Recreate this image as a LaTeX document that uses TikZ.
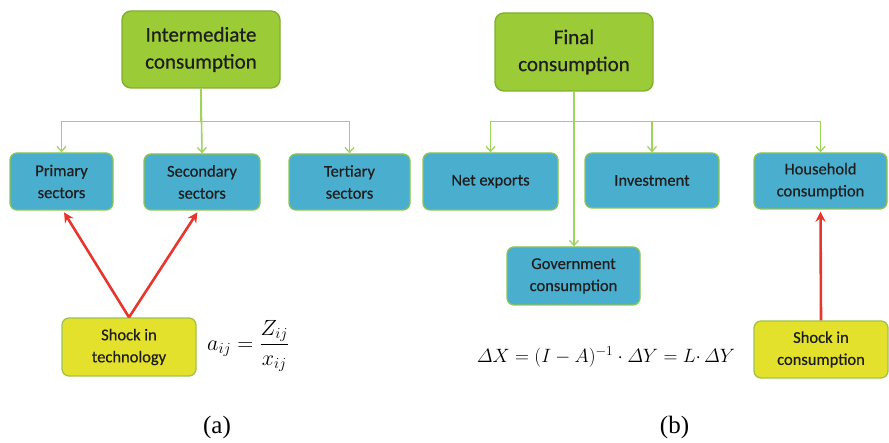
\RequirePackage{fix-cm}
\documentclass[tikz,border=0pt]{standalone}
\usepackage{amsmath}
\usepackage{fontspec}
\setmainfont{Carlito}
\newfontfamily\boxfont[FakeBold=0.5]{Carlito}
\newfontfamily\captionfont{Liberation Serif}
\usetikzlibrary{arrows.meta,calc}

\definecolor{headfill}{HTML}{9CCB38}
\definecolor{headdraw}{HTML}{7FB02E}
\definecolor{sectfill}{HTML}{4AAFCF}
\definecolor{sectdraw}{HTML}{8CC453}
\definecolor{shockfill}{HTML}{E4E12C}
\definecolor{shockdraw}{HTML}{9EC44A}
\definecolor{treeline}{HTML}{9ED35C}
\definecolor{shockline}{HTML}{E6362E}
\definecolor{boxtext}{HTML}{1E1E1E}

\tikzset{
  headbox/.style={draw=headdraw, fill=headfill, line width=1.4pt, rounded corners=9pt,
    text=boxtext, align=center, inner sep=0pt,
    font=\boxfont\fontsize{21}{27}\selectfont},
  sectbox/.style={draw=sectdraw, fill=sectfill, line width=1.3pt, rounded corners=7pt,
    text=boxtext, align=center, inner sep=0pt,
    font=\boxfont\fontsize{16.5}{22}\selectfont},
  shockbox/.style={sectbox, draw=shockdraw, fill=shockfill},
  tree/.style={draw=treeline, line width=1.6pt,
    -{Straight Barb[length=5pt,width=9pt,line width=1.3pt]}},
  shock/.style={draw=shockline, line width=2.6pt, shorten >=2pt,
    -{Stealth[length=10pt,width=10pt]}},
  eqn/.style={inner sep=0pt, font=\fontsize{19.3}{24}\selectfont},
  caption/.style={inner sep=0pt, font=\captionfont\fontsize{25}{30}\selectfont}
}

\begin{document}
\begin{tikzpicture}[x=1pt,y=-1pt]
  \useasboundingbox (0,0) rectangle (889,443);

  % ---------- (a) intermediate consumption ----------
  \node[headbox, minimum width=158pt, minimum height=77pt] (im) at (201,49.5)
    {Intermediate\\consumption};
  \node[sectbox, minimum width=103pt, minimum height=57pt] (prim) at (61.5,181.5)
    {Primary\\sectors};
  \node[sectbox, minimum width=116pt, minimum height=56pt] (sec) at (202,182)
    {Secondary\\sectors};
  \node[sectbox, minimum width=121pt, minimum height=56pt] (ter) at (349.5,182)
    {Tertiary\\sectors};
  \node[shockbox, minimum width=134pt, minimum height=58pt] (tech) at (129,347)
    {Shock in\\technology};
  \node[eqn, anchor=west, font=\fontsize{22}{26}\selectfont] (aij) at (207,346)
    {$a_{ij} = \dfrac{Z_{ij}}{x_{ij}}$};
  \node[caption] (capa) at (217,427) {(a)};

  \coordinate (imbar) at ($(im.south)+(0,33)$);
  \draw[tree] (im.south) -- (imbar) -| (prim.north);
  \draw[tree] (im.south) -- (sec.north);
  \draw[tree] (imbar) -| (ter.north);

  \draw[shock] (tech.north) -- ($(prim.south)+(1.5,0)$);
  \draw[shock] (tech.north) -- ($(sec.south)+(-3.5,0)$);

  % ---------- (b) final consumption ----------
  \node[headbox, minimum width=158pt, minimum height=78pt] (fin) at (574,52)
    {Final\\consumption};
  \node[sectbox, minimum width=135pt, minimum height=57pt] (net) at (490.5,181.5)
    {Net exports};
  \node[sectbox, minimum width=134pt, minimum height=55pt] (inv) at (652,180.5)
    {Investment};
  \node[sectbox, minimum width=133pt, minimum height=56pt] (hh) at (820.5,181)
    {Household\\consumption};
  \node[sectbox, minimum width=133pt, minimum height=58pt] (gov) at (573.5,276)
    {Government\\consumption};
  \node[shockbox, minimum width=134pt, minimum height=57pt] (shc) at (821,349.5)
    {Shock in\\consumption};
  \node[eqn] (leont) at (606,357)
    {$\varDelta X = (I - A)^{-1}\cdot \varDelta Y = L{\cdot}\, \varDelta Y$};
  \node[caption] (capb) at (674.5,427) {(b)};

  \coordinate (finbar) at (fin.south |- imbar);
  \draw[tree] (fin.south) -- (fin.south |- gov.north);
  \draw[tree] (finbar) -| (net.north);
  \draw[tree] (finbar) -| (hh.north);
  \draw[tree] (inv.north |- finbar) -- (inv.north);

  \draw[shock] (shc.north) -- (hh.south);
\end{tikzpicture}
\end{document}
